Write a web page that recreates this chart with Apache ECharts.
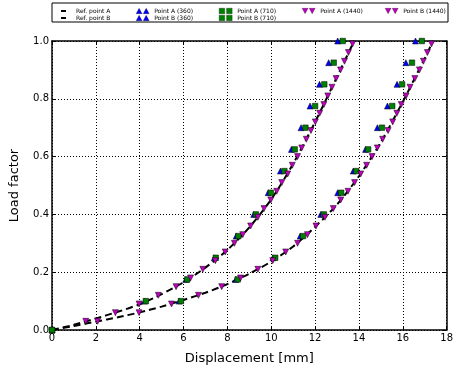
<!DOCTYPE html>
<html>
<head>
<meta charset="utf-8">
<script src="https://cdn.jsdelivr.net/npm/echarts@6/dist/echarts.min.js"></script>
<style>
  html, body { margin: 0; padding: 0; background: #fff; }
  #chart { width: 456px; height: 370px; }
</style>
</head>
<body>
<div id="chart"></div>
<script>
// reference curves (dashed)
const refAX = [0, 1, 2, 3, 4, 5, 6, 7, 8, 9, 10, 11, 12, 13, 13.78];
const refAY = [0, 0.018, 0.04, 0.063, 0.089, 0.124, 0.165, 0.216, 0.277, 0.355, 0.452, 0.575, 0.72, 0.876, 1.0];
const refBX = [0, 1, 2, 3, 4, 5, 6, 7, 8, 9, 10, 11, 12, 13, 14, 15, 16, 17, 17.38];
const refBY = [0, 0.014, 0.029, 0.044, 0.061, 0.081, 0.104, 0.129, 0.159, 0.195, 0.237, 0.289, 0.357, 0.434, 0.532, 0.65, 0.79, 0.94, 1.0];

// coarse meshes (360 / 710) : load steps
const coarseLoad = [0, 0.1, 0.175, 0.25, 0.325, 0.4, 0.475, 0.55, 0.625, 0.7, 0.775, 0.85, 0.925, 1.0];
const a360X = [0, 4.22, 6.1, 7.4, 8.4, 9.2, 9.86, 10.42, 10.92, 11.36, 11.77, 12.2, 12.62, 13.03];
const b360X = [0, 5.8, 8.38, 10.08, 11.32, 12.26, 13.03, 13.74, 14.3, 14.84, 15.3, 15.74, 16.14, 16.58];
const a710X = [0, 4.28, 6.17, 7.47, 8.5, 9.3, 9.98, 10.6, 11.07, 11.56, 12.0, 12.42, 12.85, 13.26];
const b710X = [0, 5.88, 8.47, 10.18, 11.45, 12.4, 13.19, 13.88, 14.42, 15.05, 15.52, 15.97, 16.42, 16.87];

// fine mesh (1440) : load steps
const fineLoad = [0.03, 0.06, 0.09, 0.12, 0.15, 0.18, 0.21, 0.24, 0.27, 0.30, 0.33, 0.36, 0.39, 0.42, 0.45, 0.48,
    0.51, 0.54, 0.57, 0.60, 0.63, 0.66, 0.69, 0.72, 0.75, 0.78, 0.81, 0.84, 0.87, 0.90, 0.93, 0.96, 0.99];
const a1440X = [1.54, 2.89, 3.97, 4.85, 5.66, 6.32, 6.88, 7.45, 7.9, 8.32, 8.7, 9.06, 9.39, 9.67, 9.98, 10.25,
    10.48, 10.75, 10.96, 11.2, 11.39, 11.6, 11.81, 12.01, 12.21, 12.4, 12.58, 12.77, 12.96, 13.16, 13.34, 13.52, 13.71];
const b1440X = [2.08, 3.97, 5.45, 6.68, 7.74, 8.6, 9.39, 10.07, 10.66, 11.2, 11.65, 12.04, 12.45, 12.83, 13.17, 13.5,
    13.8, 14.08, 14.35, 14.6, 14.84, 15.08, 15.33, 15.54, 15.73, 15.93, 16.15, 16.33, 16.55, 16.76, 16.94, 17.12, 17.31];

const xTicks = [0, 2, 4, 6, 8, 10, 12, 14, 16, 18];
const yTicks = [0.0, 0.2, 0.4, 0.6, 0.8, 1.0];

const pair = (xs, ys) => xs.map((x, i) => [x, ys[i]]);

const FONT = 'DejaVu Sans';
const ICON_UP = 'path://M5,0L10,9L0,9Z M17,0L22,9L12,9Z';
const ICON_DOWN = 'path://M0,0L10,0L5,9Z M12,0L22,0L17,9Z';
const ICON_SQ = 'path://M0,0h9v9h-9z M12,0h9v9h-9z';

function refSeries(name, xs, ys) {
    return {
        name: name,
        type: 'line',
        data: pair(xs, ys),
        smooth: 0.25,
        showSymbol: false,
        symbol: 'none',
        lineStyle: { color: '#000', width: 2, type: [7, 4] },
        itemStyle: { color: '#000' },
        z: 2
    };
}

function markSeries(name, xs, ys, color, symbol, rotate, size) {
    return {
        name: name,
        type: 'scatter',
        data: pair(xs, ys),
        symbol: symbol,
        symbolRotate: rotate,
        symbolSize: size,
        itemStyle: { color: color, borderColor: '#000', borderWidth: 0.5, opacity: 1 },
        z: 3
    };
}

function legendCol(left, names, icon, w, h, pad) {
    return {
        orient: 'vertical',
        left: left,
        top: 3,
        itemWidth: w,
        itemHeight: h,
        itemGap: 1,
        icon: icon,
        selectedMode: false,
        itemStyle: { borderWidth: 0.3 },
        symbolRotate: 0,
        textStyle: { fontFamily: FONT, fontSize: 6, color: '#000', padding: [0, 0, 0, pad] },
        data: names
    };
}

const chart = echarts.init(document.getElementById('chart'), null, { renderer: 'canvas' });

const axisCommon = {
    type: 'value',
    axisLine: { show: true, onZero: false, lineStyle: { color: '#000', width: 1.5 } },
    axisTick: { show: true, inside: true, length: 4, lineStyle: { color: '#000' } },
    axisLabel: { fontFamily: FONT, fontSize: 10, color: '#000' }
};

const option = {
    animation: false,
    backgroundColor: '#fff',
    textStyle: { fontFamily: FONT },
    grid: { left: 51, right: 6, top: 41, bottom: 37 },
    graphic: [{
        type: 'rect',
        shape: { x: 52, y: 3, width: 396, height: 19 },
        style: { fill: 'none', stroke: '#000', lineWidth: 1 },
        z: 0
    }],
    legend: [
        legendCol(56, [{ name: 'Ref. point A', itemStyle: { color: '#000' } }, { name: 'Ref. point B', itemStyle: { color: '#000' } }], 'rect', 5, 2, 5),
        legendCol(131, ['Point A (360)', 'Point B (360)'], ICON_UP, 13, 6, 0),
        legendCol(214, ['Point A (710)', 'Point B (710)'], ICON_SQ, 13, 6, 0),
        legendCol(297, ['Point A (1440)'], ICON_DOWN, 13, 6, 0),
        legendCol(380, ['Point B (1440)'], ICON_DOWN, 13, 6, 0)
    ],
    xAxis: [
        Object.assign({}, axisCommon, {
            min: xTicks[0],
            max: xTicks[xTicks.length - 1],
            interval: 2,
            position: 'bottom',
            name: 'Displacement [mm]',
            nameLocation: 'middle',
            nameGap: 22,
            nameTextStyle: { fontFamily: FONT, fontSize: 13, color: '#000' },
            axisLabel: { fontFamily: FONT, fontSize: 10, color: '#000', margin: 3 },
            splitLine: { show: true, lineStyle: { color: '#000', width: 1, type: [1, 2] } }
        }),
        Object.assign({}, axisCommon, {
            min: xTicks[0],
            max: xTicks[xTicks.length - 1],
            interval: 2,
            position: 'top',
            axisLabel: { show: false },
            splitLine: { show: false }
        })
    ],
    yAxis: [
        Object.assign({}, axisCommon, {
            min: yTicks[0],
            max: yTicks[yTicks.length - 1],
            interval: 0.2,
            position: 'left',
            name: 'Load factor',
            nameLocation: 'middle',
            nameGap: 31,
            nameTextStyle: { fontFamily: FONT, fontSize: 13, color: '#000' },
            axisLabel: { fontFamily: FONT, fontSize: 10, color: '#000', margin: 3, formatter: v => v.toFixed(1) },
            splitLine: { show: true, lineStyle: { color: '#000', width: 1, type: [1, 2] } }
        }),
        Object.assign({}, axisCommon, {
            min: yTicks[0],
            max: yTicks[yTicks.length - 1],
            interval: 0.2,
            position: 'right',
            axisLabel: { show: false },
            splitLine: { show: false }
        })
    ],
    series: [
        refSeries('Ref. point A', refAX, refAY),
        refSeries('Ref. point B', refBX, refBY),
        markSeries('Point A (360)', a360X, coarseLoad, '#0000ff', 'triangle', 0, 6),
        markSeries('Point B (360)', b360X, coarseLoad, '#0000ff', 'triangle', 0, 6),
        markSeries('Point A (710)', a710X, coarseLoad, '#008000', 'rect', 0, 5.5),
        markSeries('Point B (710)', b710X, coarseLoad, '#008000', 'rect', 0, 5.5),
        markSeries('Point A (1440)', a1440X, fineLoad, '#bf00bf', 'triangle', 180, 6),
        markSeries('Point B (1440)', b1440X, fineLoad, '#bf00bf', 'triangle', 180, 6)
    ]
};

chart.setOption(option);
</script>
</body>
</html>
